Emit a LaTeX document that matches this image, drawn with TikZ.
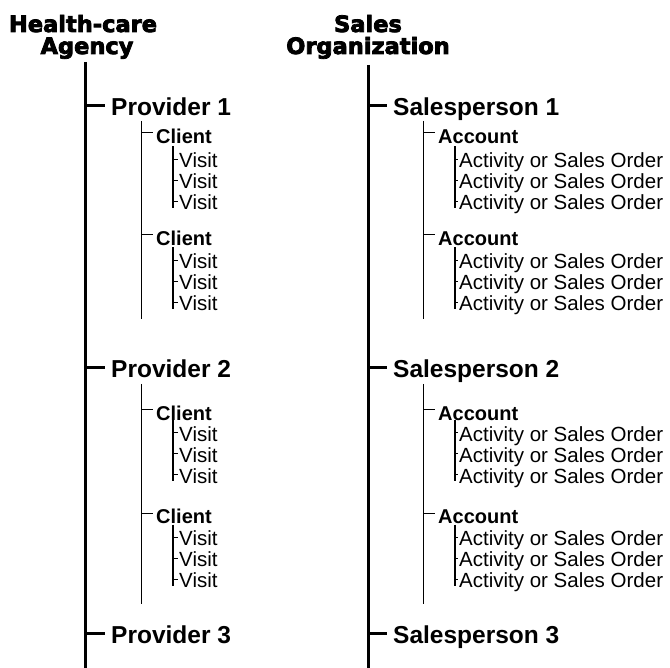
\documentclass[tikz,border=0pt]{standalone}
\usepackage{fontspec}
\setmainfont{Liberation Sans}
\newfontfamily\titlefont[BoldFeatures={FakeBold=3.5}]{DejaVu Sans}
\newcommand\mkleaf[5]{% name, spine, x, y, text
  \node[lvC] (#1) at (#3,#4) {#5};
  \draw[tickC] (#2 |- #1.west) -- (#1.west);
}
\newcommand\mkmid[5]{%
  \node[lvB] (#1) at (#3,#4) {#5};
  \draw[tickB] (#2 |- #1.west) -- (#1.west);
}
\newcommand\mktop[5]{%
  \node[lvA] (#1) at (#3,#4) {#5};
  \draw[tickA] (#2 |- #1.west) -- (#1.west);
}
\begin{document}
\begin{tikzpicture}[x=1pt,y=-1pt,
  ttl/.style={font=\titlefont\bfseries\fontsize{22.5}{26}\selectfont, anchor=base, inner sep=0pt},
  lvA/.style={font=\bfseries\fontsize{24.5}{28}\selectfont, anchor=west, inner ysep=0pt, inner xsep=6pt, text height=20.5pt, text depth=0pt},
  lvB/.style={font=\bfseries\fontsize{20}{24}\selectfont, anchor=west, inner ysep=0pt, inner xsep=3pt, text height=20.3pt, text depth=0pt},
  lvC/.style={font=\fontsize{20.5}{24}\selectfont, anchor=west, inner ysep=0pt, inner xsep=1.5pt, text height=16.7pt, text depth=0pt},
  trunk/.style={line width=3pt},
  tickA/.style={line width=3pt},
  spineB/.style={line width=1pt},
  tickB/.style={line width=1pt},
  spineC/.style={line width=2pt},
  tickC/.style={line width=1pt}]
\useasboundingbox (0,0) rectangle (670,668);

% ---------------- left tree ----------------
\node[ttl] (tL1) at (83,32) {Health-care};
\node[ttl] (tL2) at (87,54) {Agency};
\coordinate (Lt) at (85,62);
\coordinate (Lb) at (85,668);
\draw[trunk] (Lt) -- (Lb);

\mktop{p1}{Lt}{105}{105.5}{Provider 1}
\mktop{p2}{Lt}{105}{367.5}{Provider 2}
\mktop{p3}{Lt}{105}{633.5}{Provider 3}

\coordinate (s1t) at (141,121); \coordinate (s1b) at (141,319.5);
\draw[spineB] (s1t) -- (s1b);
\coordinate (s2t) at (141,384); \coordinate (s2b) at (141,604);
\draw[spineB] (s2t) -- (s2b);

\mkmid{c1}{s1t}{153}{133}{Client}
\mkmid{c2}{s1t}{153}{235}{Client}
\mkmid{c3}{s2t}{153}{410}{Client}
\mkmid{c4}{s2t}{153}{513.5}{Client}

\coordinate (vs1t) at (172.5,146.5); \coordinate (vs1b) at (172.5,208);
\coordinate (vs2t) at (172.5,247.5); \coordinate (vs2b) at (172.5,309);
\coordinate (vs3t) at (172.5,420);   \coordinate (vs3b) at (172.5,481.5);
\coordinate (vs4t) at (172.5,524.5); \coordinate (vs4b) at (172.5,586);
\draw[spineC] (vs1t) -- (vs1b);
\draw[spineC] (vs2t) -- (vs2b);
\draw[spineC] (vs3t) -- (vs3b);
\draw[spineC] (vs4t) -- (vs4b);

\mkleaf{v11}{vs1t}{177.5}{159.5}{Visit}
\mkleaf{v12}{vs1t}{177.5}{180.5}{Visit}
\mkleaf{v13}{vs1t}{177.5}{201.5}{Visit}
\mkleaf{v21}{vs2t}{177.5}{260.5}{Visit}
\mkleaf{v22}{vs2t}{177.5}{281.5}{Visit}
\mkleaf{v23}{vs2t}{177.5}{302.5}{Visit}
\mkleaf{v31}{vs3t}{177.5}{433}{Visit}
\mkleaf{v32}{vs3t}{177.5}{454}{Visit}
\mkleaf{v33}{vs3t}{177.5}{475}{Visit}
\mkleaf{v41}{vs4t}{177.5}{537.5}{Visit}
\mkleaf{v42}{vs4t}{177.5}{558.5}{Visit}
\mkleaf{v43}{vs4t}{177.5}{579.5}{Visit}

% ---------------- right tree ----------------
\node[ttl] (tR1) at (368,32) {Sales};
\node[ttl] (tR2) at (368,54) {Organization};
\coordinate (Rt) at (368,65);
\coordinate (Rb) at (368,668);
\draw[trunk] (Rt) -- (Rb);

\mktop{q1}{Rt}{387}{105.5}{Salesperson 1}
\mktop{q2}{Rt}{387}{367.5}{Salesperson 2}
\mktop{q3}{Rt}{387}{633.5}{Salesperson 3}

\coordinate (r1t) at (423,121); \coordinate (r1b) at (423,319.5);
\draw[spineB] (r1t) -- (r1b);
\coordinate (r2t) at (423,384); \coordinate (r2b) at (423,604);
\draw[spineB] (r2t) -- (r2b);

\mkmid{a1}{r1t}{435}{133}{Account}
\mkmid{a2}{r1t}{435}{235}{Account}
\mkmid{a3}{r2t}{435}{410}{Account}
\mkmid{a4}{r2t}{435}{513.5}{Account}

\coordinate (ws1t) at (455,146.5); \coordinate (ws1b) at (455,208);
\coordinate (ws2t) at (455,247.5); \coordinate (ws2b) at (455,309);
\coordinate (ws3t) at (455,420);   \coordinate (ws3b) at (455,481.5);
\coordinate (ws4t) at (455,524.5); \coordinate (ws4b) at (455,586);
\draw[spineC] (ws1t) -- (ws1b);
\draw[spineC] (ws2t) -- (ws2b);
\draw[spineC] (ws3t) -- (ws3b);
\draw[spineC] (ws4t) -- (ws4b);

\mkleaf{o11}{ws1t}{457.5}{159.5}{Activity or Sales Order}
\mkleaf{o12}{ws1t}{457.5}{180.5}{Activity or Sales Order}
\mkleaf{o13}{ws1t}{457.5}{201.5}{Activity or Sales Order}
\mkleaf{o21}{ws2t}{457.5}{260.5}{Activity or Sales Order}
\mkleaf{o22}{ws2t}{457.5}{281.5}{Activity or Sales Order}
\mkleaf{o23}{ws2t}{457.5}{302.5}{Activity or Sales Order}
\mkleaf{o31}{ws3t}{457.5}{433}{Activity or Sales Order}
\mkleaf{o32}{ws3t}{457.5}{454}{Activity or Sales Order}
\mkleaf{o33}{ws3t}{457.5}{475}{Activity or Sales Order}
\mkleaf{o41}{ws4t}{457.5}{537.5}{Activity or Sales Order}
\mkleaf{o42}{ws4t}{457.5}{558.5}{Activity or Sales Order}
\mkleaf{o43}{ws4t}{457.5}{579.5}{Activity or Sales Order}
\end{tikzpicture}
\end{document}
